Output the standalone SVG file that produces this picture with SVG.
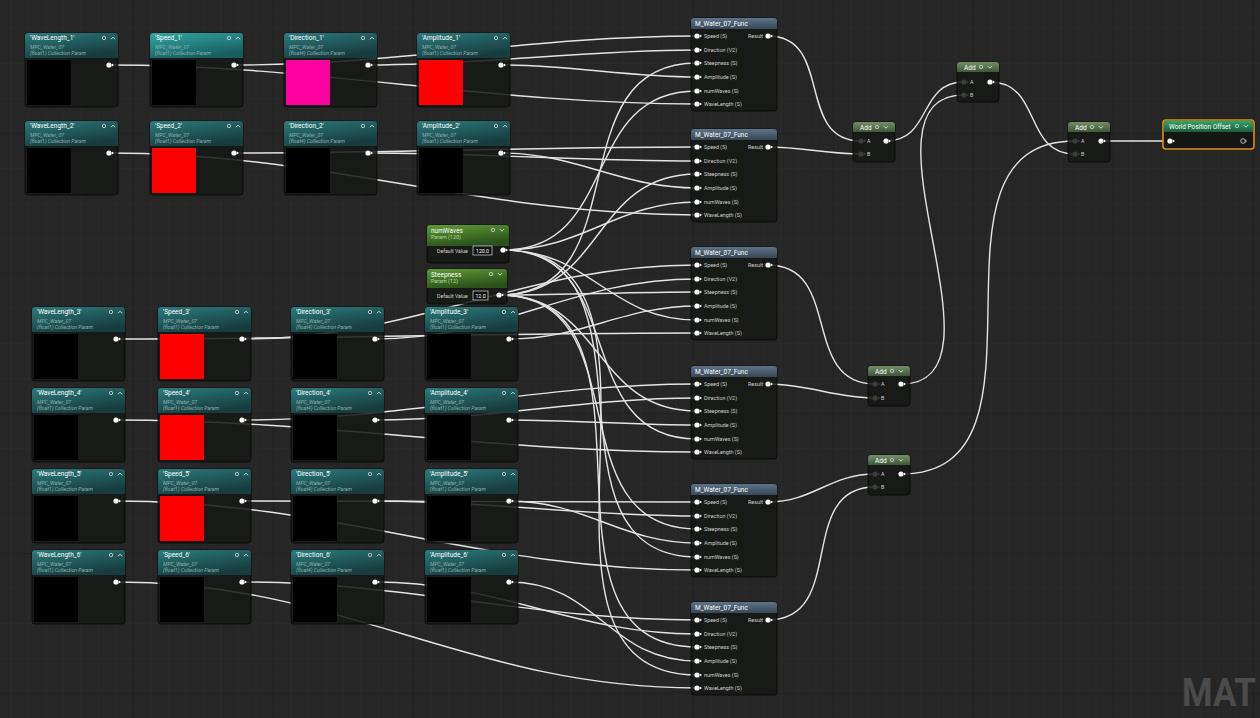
<svg xmlns="http://www.w3.org/2000/svg" width="1260" height="718" viewBox="0 0 1260 718">
<defs>
<pattern id="gMinor" width="17.5" height="17.5" patternUnits="userSpaceOnUse" x="-7" y="-7">
<path d="M0,0H17.5M0,0V17.5" stroke="#2b2b2b" stroke-width="1" fill="none"/>
</pattern>
<pattern id="gMajor" width="140" height="140" patternUnits="userSpaceOnUse" x="-7" y="-7">
<path d="M0,0H140M0,0V140" stroke="#1c1c1c" stroke-width="1.2" fill="none"/>
</pattern>
<linearGradient id="gTeal" x1="0" y1="0" x2="0.5" y2="1"><stop offset="0" stop-color="#2e8485"/><stop offset="1" stop-color="#173f41"/></linearGradient>
<linearGradient id="gTealSel" x1="0" y1="0" x2="0.5" y2="1"><stop offset="0" stop-color="#33b3b1"/><stop offset="1" stop-color="#1a6466"/></linearGradient>
<linearGradient id="gFunc" x1="0" y1="0" x2="0" y2="1"><stop offset="0" stop-color="#647c92"/><stop offset="1" stop-color="#3a4a59"/></linearGradient>
<linearGradient id="gAdd" x1="0" y1="0" x2="0" y2="1"><stop offset="0" stop-color="#7b9a6d"/><stop offset="1" stop-color="#415c3a"/></linearGradient>
<linearGradient id="gParam" x1="0" y1="0" x2="0.4" y2="1"><stop offset="0" stop-color="#66a83a"/><stop offset="1" stop-color="#2c561b"/></linearGradient>
<linearGradient id="gWPO" x1="0" y1="0" x2="0" y2="1"><stop offset="0" stop-color="#34a56a"/><stop offset="1" stop-color="#1b5c3b"/></linearGradient>
<rect id="bdC" width="93" height="74" rx="3"/>
<path id="hdC" d="M0,25V3a3,3 0 0 1 3,-3H90a3,3 0 0 1 3,3V25Z"/>
<g id="pinW"><circle r="2.6" fill="#fff"/><path d="M2.9,-1.6L4.9,0L2.9,1.6Z" fill="#fff"/></g>
<g id="pinD"><circle r="2.6" fill="#3c3c3c"/><path d="M2.9,-1.6L4.9,0L2.9,1.6Z" fill="#3c3c3c"/></g>
<g id="icoUp"><circle r="1.7" fill="none" stroke="#d8d8d8" stroke-width="0.8"/><path d="M7,1.2L9,-0.8L11,1.2" fill="none" stroke="#e8e8e8" stroke-width="0.9"/></g>
<g id="icoDn"><circle r="1.7" fill="none" stroke="#d8d8d8" stroke-width="0.8"/><path d="M7,-0.8L9,1.2L11,-0.8" fill="none" stroke="#e8e8e8" stroke-width="0.9"/></g>
</defs>
<style>
.wire{fill:none;stroke:#e4e4e4;stroke-width:1.4}
.nb{fill:#161815;fill-opacity:0.86;stroke:#080808;stroke-width:0.8}
.hd{opacity:0.92}
text{font-family:Roboto,"Liberation Sans",sans-serif}
.tt{font-size:6.5px;fill:#ffffff}
.sb{font-size:5.2px;font-style:italic;fill:#8fb1ac}
.pl{font-size:5.4px;fill:#cfcfcf}
.ps{font-size:5.4px;fill:#b6d79c}
.dv{font-size:5.2px;fill:#d6d6d6}
</style>
<rect width="1260" height="718" fill="#262626"/>
<rect width="1260" height="718" fill="url(#gMinor)"/>
<rect width="1260" height="718" fill="url(#gMajor)"/>
<text x="1182" y="706" font-size="38" font-weight="bold" fill="#4b4b4b" textLength="74" lengthAdjust="spacingAndGlyphs" style="font-family:Roboto,'Liberation Sans',sans-serif">MAT</text>

<g id="connectors">
<path class="wire" d="M109,65C318,65 488,104 697,104"/>
<path class="wire" d="M234,65C398,65 533,36 697,36"/>
<path class="wire" d="M368,65C483,65 582,50 697,50"/>
<path class="wire" d="M501,65C570,65 628,77 697,77"/>
<path class="wire" d="M109,153C326,153 480,215 697,215"/>
<path class="wire" d="M234,153C390,153 541,147 697,147"/>
<path class="wire" d="M368,153C480,153 585,161 697,161"/>
<path class="wire" d="M501,153C578,153 620,188 697,188"/>
<path class="wire" d="M116,339C312,339 501,333 697,333"/>
<path class="wire" d="M242,339C418,339 521,265 697,265"/>
<path class="wire" d="M375,339C502,339 570,279 697,279"/>
<path class="wire" d="M509,339C583,339 623,306 697,306"/>
<path class="wire" d="M116,420C320,420 493,452 697,452"/>
<path class="wire" d="M242,420C406,420 533,384 697,384"/>
<path class="wire" d="M375,420C490,420 582,398 697,398"/>
<path class="wire" d="M509,420C573,420 633,425 697,425"/>
<path class="wire" d="M116,501C333,501 480,570 697,570"/>
<path class="wire" d="M242,501C394,501 545,502 697,502"/>
<path class="wire" d="M375,501C487,501 585,516 697,516"/>
<path class="wire" d="M509,501C586,501 620,543 697,543"/>
<path class="wire" d="M116,582C345,582 468,688 697,688"/>
<path class="wire" d="M242,582C406,582 533,620 697,620"/>
<path class="wire" d="M375,582C500,582 572,634 697,634"/>
<path class="wire" d="M509,582C598,582 608,661 697,661"/>
<path class="wire" d="M503,250C621,250 579,91 697,91"/>
<path class="wire" d="M503,250C584,250 616,202 697,202"/>
<path class="wire" d="M503,250C591,250 609,320 697,320"/>
<path class="wire" d="M503,250C631,250 569,439 697,439"/>
<path class="wire" d="M503,250C670,250 530,557 697,557"/>
<path class="wire" d="M503,250C709,250 491,675 697,675"/>
<path class="wire" d="M499,295C642,295 554,63 697,63"/>
<path class="wire" d="M499,295C605,295 591,174 697,174"/>
<path class="wire" d="M499,295C566,295 630,292 697,292"/>
<path class="wire" d="M499,295C604,295 592,411 697,411"/>
<path class="wire" d="M499,295C643,295 553,529 697,529"/>
<path class="wire" d="M499,295C682,295 514,647 697,647"/>
<path class="wire" d="M768,36C834,36 795,141 861,141"/>
<path class="wire" d="M768,147C801,147 828,154 861,154"/>
<path class="wire" d="M768,265C843,265 800,384 875,384"/>
<path class="wire" d="M768,384C808,384 835,398 875,398"/>
<path class="wire" d="M768,502C813,502 830,474 875,474"/>
<path class="wire" d="M768,620C848,620 795,487 875,487"/>
<path class="wire" d="M886,141C932,141 918,82 964,82"/>
<path class="wire" d="M901,384C1018,384 847,95 964,95"/>
<path class="wire" d="M990,82C1042,82 1023,154 1075,154"/>
<path class="wire" d="M901,474C1070,474 906,141 1075,141"/>
<path class="wire" d="M1101,141H1171"/>
</g>

<!-- Row 1 -->
<g id="wl1" transform="translate(25,33)"><use href="#bdC" class="nb"/><use href="#hdC" class="hd" fill="url(#gTeal)"/><rect x="2" y="27" width="44" height="45" fill="#000"/><text class="tt" x="5" y="7">'WaveLength_1'</text><text class="sb" x="5" y="16">MPC_Water_07</text><text class="sb" x="5" y="22">(float1) Collection Param</text><use href="#icoUp" x="79" y="5"/><use href="#pinW" x="84" y="32"/></g>
<g id="sp1" transform="translate(150,33)"><use href="#bdC" class="nb"/><use href="#hdC" class="hd" fill="url(#gTealSel)"/><rect x="2" y="27" width="44" height="45" fill="#000"/><text class="tt" x="5" y="7">'Speed_1'</text><text class="sb" x="5" y="16">MPC_Water_07</text><text class="sb" x="5" y="22">(float1) Collection Param</text><use href="#icoUp" x="79" y="5"/><use href="#pinW" x="84" y="32"/></g>
<g id="dir1" transform="translate(284,33)"><use href="#bdC" class="nb"/><use href="#hdC" class="hd" fill="url(#gTeal)"/><rect x="2" y="27" width="44" height="45" fill="#ff00a0"/><text class="tt" x="5" y="7">'Direction_1'</text><text class="sb" x="5" y="16">MPC_Water_07</text><text class="sb" x="5" y="22">(float4) Collection Param</text><use href="#icoUp" x="79" y="5"/><use href="#pinW" x="84" y="32"/></g>
<g id="amp1" transform="translate(417,33)"><use href="#bdC" class="nb"/><use href="#hdC" class="hd" fill="url(#gTeal)"/><rect x="2" y="27" width="44" height="45" fill="#ff0000"/><text class="tt" x="5" y="7">'Amplitude_1'</text><text class="sb" x="5" y="16">MPC_Water_07</text><text class="sb" x="5" y="22">(float1) Collection Param</text><use href="#icoUp" x="79" y="5"/><use href="#pinW" x="84" y="32"/></g>
<!-- Row 2 -->
<g id="wl2" transform="translate(25,121)"><use href="#bdC" class="nb"/><use href="#hdC" class="hd" fill="url(#gTeal)"/><rect x="2" y="27" width="44" height="45" fill="#000"/><text class="tt" x="5" y="7">'WaveLength_2'</text><text class="sb" x="5" y="16">MPC_Water_07</text><text class="sb" x="5" y="22">(float1) Collection Param</text><use href="#icoUp" x="79" y="5"/><use href="#pinW" x="84" y="32"/></g>
<g id="sp2" transform="translate(150,121)"><use href="#bdC" class="nb"/><use href="#hdC" class="hd" fill="url(#gTeal)"/><rect x="2" y="27" width="44" height="45" fill="#ff0000"/><text class="tt" x="5" y="7">'Speed_2'</text><text class="sb" x="5" y="16">MPC_Water_07</text><text class="sb" x="5" y="22">(float1) Collection Param</text><use href="#icoUp" x="79" y="5"/><use href="#pinW" x="84" y="32"/></g>
<g id="dir2" transform="translate(284,121)"><use href="#bdC" class="nb"/><use href="#hdC" class="hd" fill="url(#gTeal)"/><rect x="2" y="27" width="44" height="45" fill="#000"/><text class="tt" x="5" y="7">'Direction_2'</text><text class="sb" x="5" y="16">MPC_Water_07</text><text class="sb" x="5" y="22">(float4) Collection Param</text><use href="#icoUp" x="79" y="5"/><use href="#pinW" x="84" y="32"/></g>
<g id="amp2" transform="translate(417,121)"><use href="#bdC" class="nb"/><use href="#hdC" class="hd" fill="url(#gTeal)"/><rect x="2" y="27" width="44" height="45" fill="#000"/><text class="tt" x="5" y="7">'Amplitude_2'</text><text class="sb" x="5" y="16">MPC_Water_07</text><text class="sb" x="5" y="22">(float1) Collection Param</text><use href="#icoUp" x="79" y="5"/><use href="#pinW" x="84" y="32"/></g>
<!-- Row 3 -->
<g id="wl3" transform="translate(32,307)"><use href="#bdC" class="nb"/><use href="#hdC" class="hd" fill="url(#gTeal)"/><rect x="2" y="27" width="44" height="45" fill="#000"/><text class="tt" x="5" y="7">'WaveLength_3'</text><text class="sb" x="5" y="16">MPC_Water_07</text><text class="sb" x="5" y="22">(float1) Collection Param</text><use href="#icoUp" x="79" y="5"/><use href="#pinW" x="84" y="32"/></g>
<g id="sp3" transform="translate(158,307)"><use href="#bdC" class="nb"/><use href="#hdC" class="hd" fill="url(#gTeal)"/><rect x="2" y="27" width="44" height="45" fill="#ff0000"/><text class="tt" x="5" y="7">'Speed_3'</text><text class="sb" x="5" y="16">MPC_Water_07</text><text class="sb" x="5" y="22">(float1) Collection Param</text><use href="#icoUp" x="79" y="5"/><use href="#pinW" x="84" y="32"/></g>
<g id="dir3" transform="translate(291,307)"><use href="#bdC" class="nb"/><use href="#hdC" class="hd" fill="url(#gTeal)"/><rect x="2" y="27" width="44" height="45" fill="#000"/><text class="tt" x="5" y="7">'Direction_3'</text><text class="sb" x="5" y="16">MPC_Water_07</text><text class="sb" x="5" y="22">(float4) Collection Param</text><use href="#icoUp" x="79" y="5"/><use href="#pinW" x="84" y="32"/></g>
<g id="amp3" transform="translate(425,307)"><use href="#bdC" class="nb"/><use href="#hdC" class="hd" fill="url(#gTeal)"/><rect x="2" y="27" width="44" height="45" fill="#000"/><text class="tt" x="5" y="7">'Amplitude_3'</text><text class="sb" x="5" y="16">MPC_Water_07</text><text class="sb" x="5" y="22">(float1) Collection Param</text><use href="#icoUp" x="79" y="5"/><use href="#pinW" x="84" y="32"/></g>
<!-- Row 4 -->
<g id="wl4" transform="translate(32,388)"><use href="#bdC" class="nb"/><use href="#hdC" class="hd" fill="url(#gTeal)"/><rect x="2" y="27" width="44" height="45" fill="#000"/><text class="tt" x="5" y="7">'WaveLength_4'</text><text class="sb" x="5" y="16">MPC_Water_07</text><text class="sb" x="5" y="22">(float1) Collection Param</text><use href="#icoUp" x="79" y="5"/><use href="#pinW" x="84" y="32"/></g>
<g id="sp4" transform="translate(158,388)"><use href="#bdC" class="nb"/><use href="#hdC" class="hd" fill="url(#gTeal)"/><rect x="2" y="27" width="44" height="45" fill="#ff0000"/><text class="tt" x="5" y="7">'Speed_4'</text><text class="sb" x="5" y="16">MPC_Water_07</text><text class="sb" x="5" y="22">(float1) Collection Param</text><use href="#icoUp" x="79" y="5"/><use href="#pinW" x="84" y="32"/></g>
<g id="dir4" transform="translate(291,388)"><use href="#bdC" class="nb"/><use href="#hdC" class="hd" fill="url(#gTeal)"/><rect x="2" y="27" width="44" height="45" fill="#000"/><text class="tt" x="5" y="7">'Direction_4'</text><text class="sb" x="5" y="16">MPC_Water_07</text><text class="sb" x="5" y="22">(float4) Collection Param</text><use href="#icoUp" x="79" y="5"/><use href="#pinW" x="84" y="32"/></g>
<g id="amp4" transform="translate(425,388)"><use href="#bdC" class="nb"/><use href="#hdC" class="hd" fill="url(#gTeal)"/><rect x="2" y="27" width="44" height="45" fill="#000"/><text class="tt" x="5" y="7">'Amplitude_4'</text><text class="sb" x="5" y="16">MPC_Water_07</text><text class="sb" x="5" y="22">(float1) Collection Param</text><use href="#icoUp" x="79" y="5"/><use href="#pinW" x="84" y="32"/></g>
<!-- Row 5 -->
<g id="wl5" transform="translate(32,469)"><use href="#bdC" class="nb"/><use href="#hdC" class="hd" fill="url(#gTeal)"/><rect x="2" y="27" width="44" height="45" fill="#000"/><text class="tt" x="5" y="7">'WaveLength_5'</text><text class="sb" x="5" y="16">MPC_Water_07</text><text class="sb" x="5" y="22">(float1) Collection Param</text><use href="#icoUp" x="79" y="5"/><use href="#pinW" x="84" y="32"/></g>
<g id="sp5" transform="translate(158,469)"><use href="#bdC" class="nb"/><use href="#hdC" class="hd" fill="url(#gTeal)"/><rect x="2" y="27" width="44" height="45" fill="#ff0000"/><text class="tt" x="5" y="7">'Speed_5'</text><text class="sb" x="5" y="16">MPC_Water_07</text><text class="sb" x="5" y="22">(float1) Collection Param</text><use href="#icoUp" x="79" y="5"/><use href="#pinW" x="84" y="32"/></g>
<g id="dir5" transform="translate(291,469)"><use href="#bdC" class="nb"/><use href="#hdC" class="hd" fill="url(#gTeal)"/><rect x="2" y="27" width="44" height="45" fill="#000"/><text class="tt" x="5" y="7">'Direction_5'</text><text class="sb" x="5" y="16">MPC_Water_07</text><text class="sb" x="5" y="22">(float4) Collection Param</text><use href="#icoUp" x="79" y="5"/><use href="#pinW" x="84" y="32"/></g>
<g id="amp5" transform="translate(425,469)"><use href="#bdC" class="nb"/><use href="#hdC" class="hd" fill="url(#gTeal)"/><rect x="2" y="27" width="44" height="45" fill="#000"/><text class="tt" x="5" y="7">'Amplitude_5'</text><text class="sb" x="5" y="16">MPC_Water_07</text><text class="sb" x="5" y="22">(float1) Collection Param</text><use href="#icoUp" x="79" y="5"/><use href="#pinW" x="84" y="32"/></g>
<!-- Row 6 -->
<g id="wl6" transform="translate(32,550)"><use href="#bdC" class="nb"/><use href="#hdC" class="hd" fill="url(#gTeal)"/><rect x="2" y="27" width="44" height="45" fill="#000"/><text class="tt" x="5" y="7">'WaveLength_6'</text><text class="sb" x="5" y="16">MPC_Water_07</text><text class="sb" x="5" y="22">(float1) Collection Param</text><use href="#icoUp" x="79" y="5"/><use href="#pinW" x="84" y="32"/></g>
<g id="sp6" transform="translate(158,550)"><use href="#bdC" class="nb"/><use href="#hdC" class="hd" fill="url(#gTeal)"/><rect x="2" y="27" width="44" height="45" fill="#000"/><text class="tt" x="5" y="7">'Speed_6'</text><text class="sb" x="5" y="16">MPC_Water_07</text><text class="sb" x="5" y="22">(float1) Collection Param</text><use href="#icoUp" x="79" y="5"/><use href="#pinW" x="84" y="32"/></g>
<g id="dir6" transform="translate(291,550)"><use href="#bdC" class="nb"/><use href="#hdC" class="hd" fill="url(#gTeal)"/><rect x="2" y="27" width="44" height="45" fill="#000"/><text class="tt" x="5" y="7">'Direction_6'</text><text class="sb" x="5" y="16">MPC_Water_07</text><text class="sb" x="5" y="22">(float4) Collection Param</text><use href="#icoUp" x="79" y="5"/><use href="#pinW" x="84" y="32"/></g>
<g id="amp6" transform="translate(425,550)"><use href="#bdC" class="nb"/><use href="#hdC" class="hd" fill="url(#gTeal)"/><rect x="2" y="27" width="44" height="45" fill="#000"/><text class="tt" x="5" y="7">'Amplitude_6'</text><text class="sb" x="5" y="16">MPC_Water_07</text><text class="sb" x="5" y="22">(float1) Collection Param</text><use href="#icoUp" x="79" y="5"/><use href="#pinW" x="84" y="32"/></g>

<!-- Scalar params -->
<g id="numWaves" transform="translate(427,225)">
<rect class="nb" width="82" height="38" rx="3"/>
<path class="hd" fill="url(#gParam)" d="M0,21V3a3,3 0 0 1 3,-3H79a3,3 0 0 1 3,3V21Z"/>
<text class="tt" x="4" y="7.5">numWaves</text>
<text class="ps" x="4" y="14">Param (120)</text>
<use href="#icoDn" x="66" y="5"/>
<text class="dv" x="10" y="27.5">Default Value</text>
<rect x="46" y="21" width="19" height="9" fill="#111" stroke="#d8d8d8" stroke-width="0.7"/>
<text class="dv" x="55.5" y="27.8" text-anchor="middle" style="fill:#fff">120.0</text>
<use href="#pinW" x="76" y="25"/>
</g>
<g id="steepness" transform="translate(427,269)">
<rect class="nb" width="80" height="35" rx="3"/>
<path class="hd" fill="url(#gParam)" d="M0,19V3a3,3 0 0 1 3,-3H77a3,3 0 0 1 3,3V19Z"/>
<text class="tt" x="4" y="7.5">Steepness</text>
<text class="ps" x="4" y="14">Param (12)</text>
<use href="#icoDn" x="64" y="5"/>
<text class="dv" x="10" y="28.5">Default Value</text>
<rect x="46" y="22" width="15" height="9" fill="#111" stroke="#d8d8d8" stroke-width="0.7"/>
<text class="dv" x="53.5" y="28.8" text-anchor="middle" style="fill:#fff">12.0</text>
<use href="#pinW" x="72" y="26"/>
</g>

<!-- Function nodes -->
<g id="func1" transform="translate(691,18)">
<rect class="nb" width="86" height="93" rx="3"/><path class="hd" fill="url(#gFunc)" d="M0,11V3a3,3 0 0 1 3,-3H83a3,3 0 0 1 3,3V11Z"/>
<text class="tt" x="4" y="8">M_Water_07_Func</text>
<use href="#pinW" x="6" y="18"/><text class="pl" x="13" y="20">Speed (S)</text>
<use href="#pinW" x="6" y="32"/><text class="pl" x="13" y="34">Direction (V2)</text>
<use href="#pinW" x="6" y="45"/><text class="pl" x="13" y="47">Steepness (S)</text>
<use href="#pinW" x="6" y="59"/><text class="pl" x="13" y="61">Amplitude (S)</text>
<use href="#pinW" x="6" y="73"/><text class="pl" x="13" y="75">numWaves (S)</text>
<use href="#pinW" x="6" y="86"/><text class="pl" x="13" y="88">WaveLength (S)</text>
<text class="pl" x="72" y="20" text-anchor="end">Result</text><use href="#pinW" x="77" y="18"/>
</g>
<g id="func2" transform="translate(691,129)">
<rect class="nb" width="86" height="93" rx="3"/><path class="hd" fill="url(#gFunc)" d="M0,11V3a3,3 0 0 1 3,-3H83a3,3 0 0 1 3,3V11Z"/>
<text class="tt" x="4" y="8">M_Water_07_Func</text>
<use href="#pinW" x="6" y="18"/><text class="pl" x="13" y="20">Speed (S)</text>
<use href="#pinW" x="6" y="32"/><text class="pl" x="13" y="34">Direction (V2)</text>
<use href="#pinW" x="6" y="45"/><text class="pl" x="13" y="47">Steepness (S)</text>
<use href="#pinW" x="6" y="59"/><text class="pl" x="13" y="61">Amplitude (S)</text>
<use href="#pinW" x="6" y="73"/><text class="pl" x="13" y="75">numWaves (S)</text>
<use href="#pinW" x="6" y="86"/><text class="pl" x="13" y="88">WaveLength (S)</text>
<text class="pl" x="72" y="20" text-anchor="end">Result</text><use href="#pinW" x="77" y="18"/>
</g>
<g id="func3" transform="translate(691,247)">
<rect class="nb" width="86" height="93" rx="3"/><path class="hd" fill="url(#gFunc)" d="M0,11V3a3,3 0 0 1 3,-3H83a3,3 0 0 1 3,3V11Z"/>
<text class="tt" x="4" y="8">M_Water_07_Func</text>
<use href="#pinW" x="6" y="18"/><text class="pl" x="13" y="20">Speed (S)</text>
<use href="#pinW" x="6" y="32"/><text class="pl" x="13" y="34">Direction (V2)</text>
<use href="#pinW" x="6" y="45"/><text class="pl" x="13" y="47">Steepness (S)</text>
<use href="#pinW" x="6" y="59"/><text class="pl" x="13" y="61">Amplitude (S)</text>
<use href="#pinW" x="6" y="73"/><text class="pl" x="13" y="75">numWaves (S)</text>
<use href="#pinW" x="6" y="86"/><text class="pl" x="13" y="88">WaveLength (S)</text>
<text class="pl" x="72" y="20" text-anchor="end">Result</text><use href="#pinW" x="77" y="18"/>
</g>
<g id="func4" transform="translate(691,366)">
<rect class="nb" width="86" height="93" rx="3"/><path class="hd" fill="url(#gFunc)" d="M0,11V3a3,3 0 0 1 3,-3H83a3,3 0 0 1 3,3V11Z"/>
<text class="tt" x="4" y="8">M_Water_07_Func</text>
<use href="#pinW" x="6" y="18"/><text class="pl" x="13" y="20">Speed (S)</text>
<use href="#pinW" x="6" y="32"/><text class="pl" x="13" y="34">Direction (V2)</text>
<use href="#pinW" x="6" y="45"/><text class="pl" x="13" y="47">Steepness (S)</text>
<use href="#pinW" x="6" y="59"/><text class="pl" x="13" y="61">Amplitude (S)</text>
<use href="#pinW" x="6" y="73"/><text class="pl" x="13" y="75">numWaves (S)</text>
<use href="#pinW" x="6" y="86"/><text class="pl" x="13" y="88">WaveLength (S)</text>
<text class="pl" x="72" y="20" text-anchor="end">Result</text><use href="#pinW" x="77" y="18"/>
</g>
<g id="func5" transform="translate(691,484)">
<rect class="nb" width="86" height="93" rx="3"/><path class="hd" fill="url(#gFunc)" d="M0,11V3a3,3 0 0 1 3,-3H83a3,3 0 0 1 3,3V11Z"/>
<text class="tt" x="4" y="8">M_Water_07_Func</text>
<use href="#pinW" x="6" y="18"/><text class="pl" x="13" y="20">Speed (S)</text>
<use href="#pinW" x="6" y="32"/><text class="pl" x="13" y="34">Direction (V2)</text>
<use href="#pinW" x="6" y="45"/><text class="pl" x="13" y="47">Steepness (S)</text>
<use href="#pinW" x="6" y="59"/><text class="pl" x="13" y="61">Amplitude (S)</text>
<use href="#pinW" x="6" y="73"/><text class="pl" x="13" y="75">numWaves (S)</text>
<use href="#pinW" x="6" y="86"/><text class="pl" x="13" y="88">WaveLength (S)</text>
<text class="pl" x="72" y="20" text-anchor="end">Result</text><use href="#pinW" x="77" y="18"/>
</g>
<g id="func6" transform="translate(691,602)">
<rect class="nb" width="86" height="93" rx="3"/><path class="hd" fill="url(#gFunc)" d="M0,11V3a3,3 0 0 1 3,-3H83a3,3 0 0 1 3,3V11Z"/>
<text class="tt" x="4" y="8">M_Water_07_Func</text>
<use href="#pinW" x="6" y="18"/><text class="pl" x="13" y="20">Speed (S)</text>
<use href="#pinW" x="6" y="32"/><text class="pl" x="13" y="34">Direction (V2)</text>
<use href="#pinW" x="6" y="45"/><text class="pl" x="13" y="47">Steepness (S)</text>
<use href="#pinW" x="6" y="59"/><text class="pl" x="13" y="61">Amplitude (S)</text>
<use href="#pinW" x="6" y="73"/><text class="pl" x="13" y="75">numWaves (S)</text>
<use href="#pinW" x="6" y="86"/><text class="pl" x="13" y="88">WaveLength (S)</text>
<text class="pl" x="72" y="20" text-anchor="end">Result</text><use href="#pinW" x="77" y="18"/>
</g>

<!-- Add nodes -->
<g id="add1" transform="translate(853,122)">
<rect class="nb" width="42" height="40" rx="3"/><path class="hd" fill="url(#gAdd)" d="M0,10V3a3,3 0 0 1 3,-3H39a3,3 0 0 1 3,3V10Z"/>
<text class="tt" x="7" y="7.5">Add</text><use href="#icoDn" x="24" y="5"/>
<use href="#pinD" x="8" y="19"/><text class="pl" x="14" y="21">A</text>
<use href="#pinD" x="8" y="32"/><text class="pl" x="14" y="34">B</text>
<use href="#pinW" x="33" y="19"/>
</g>
<g id="addTop" transform="translate(957,62)">
<rect class="nb" width="42" height="40" rx="3"/><path class="hd" fill="url(#gAdd)" d="M0,10V3a3,3 0 0 1 3,-3H39a3,3 0 0 1 3,3V10Z"/>
<text class="tt" x="7" y="7.5">Add</text><use href="#icoDn" x="24" y="5"/>
<use href="#pinD" x="7" y="20"/><text class="pl" x="13" y="22">A</text>
<use href="#pinD" x="7" y="33"/><text class="pl" x="13" y="35">B</text>
<use href="#pinW" x="33" y="20"/>
</g>
<g id="addFinal" transform="translate(1068,122)">
<rect class="nb" width="42" height="40" rx="3"/><path class="hd" fill="url(#gAdd)" d="M0,10V3a3,3 0 0 1 3,-3H39a3,3 0 0 1 3,3V10Z"/>
<text class="tt" x="7" y="7.5">Add</text><use href="#icoDn" x="24" y="5"/>
<use href="#pinD" x="7" y="19"/><text class="pl" x="13" y="21">A</text>
<use href="#pinD" x="7" y="32"/><text class="pl" x="13" y="34">B</text>
<use href="#pinW" x="33" y="19"/>
</g>
<g id="addMid" transform="translate(868,366)">
<rect class="nb" width="42" height="40" rx="3"/><path class="hd" fill="url(#gAdd)" d="M0,10V3a3,3 0 0 1 3,-3H39a3,3 0 0 1 3,3V10Z"/>
<text class="tt" x="7" y="7.5">Add</text><use href="#icoDn" x="24" y="5"/>
<use href="#pinD" x="7" y="18"/><text class="pl" x="13" y="20">A</text>
<use href="#pinD" x="7" y="32"/><text class="pl" x="13" y="34">B</text>
<use href="#pinW" x="33" y="18"/>
</g>
<g id="addLow" transform="translate(868,455)">
<rect class="nb" width="42" height="40" rx="3"/><path class="hd" fill="url(#gAdd)" d="M0,10V3a3,3 0 0 1 3,-3H39a3,3 0 0 1 3,3V10Z"/>
<text class="tt" x="7" y="7.5">Add</text><use href="#icoDn" x="24" y="5"/>
<use href="#pinD" x="7" y="19"/><text class="pl" x="13" y="21">A</text>
<use href="#pinD" x="7" y="32"/><text class="pl" x="13" y="34">B</text>
<use href="#pinW" x="33" y="19"/>
</g>

<!-- Output -->
<g id="wpo" transform="translate(1163,120)">
<rect width="91" height="29" rx="3" fill="#151714" stroke="#e0900f" stroke-width="1.6"/>
<path fill="url(#gWPO)" d="M0.8,12V3.5a2.7,2.7 0 0 1 2.7,-2.7H87.5a2.7,2.7 0 0 1 2.7,2.7V12Z"/>
<text class="tt" x="6" y="8.8">World Position Offset</text>
<use href="#icoDn" x="74" y="6"/>
<use href="#pinW" x="7" y="21"/>
<circle cx="80" cy="21" r="2.3" fill="none" stroke="#dcdcdc" stroke-width="0.8"/>
<path d="M82.2,19.8L83.6,21L82.2,22.2" fill="none" stroke="#dcdcdc" stroke-width="0.7"/>
</g>
</svg>
